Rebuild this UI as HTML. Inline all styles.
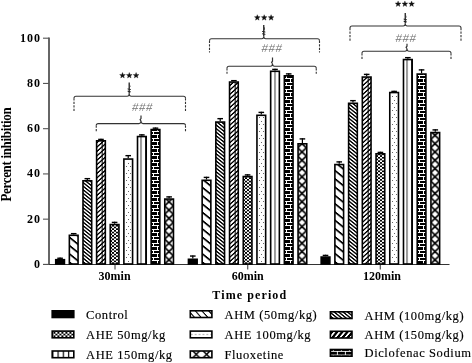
<!DOCTYPE html>
<html><head><meta charset="utf-8"><style>
html,body{margin:0;padding:0;background:#fff;}
body{width:472px;height:363px;overflow:hidden;}
svg{display:block;filter:grayscale(1);}
text{font-family:"Liberation Serif",serif;fill:#000;}
.yt{font-size:12px;font-weight:bold;text-anchor:end;letter-spacing:1.0px;}
.xt{font-size:12px;font-weight:bold;text-anchor:middle;letter-spacing:0px;}
.tt{font-size:12px;font-weight:bold;text-anchor:middle;letter-spacing:1.1px;}
.yl{font-size:13px;font-weight:bold;text-anchor:middle;letter-spacing:-0.33px;}
.lg{font-size:12.5px;letter-spacing:0.6px;stroke:#000;stroke-width:0.15px;}
.hs{font-family:"Liberation Sans",sans-serif;font-size:11.5px;font-style:italic;fill:#777;text-anchor:middle;letter-spacing:0.6px;}
</style></head><body>
<svg width="472" height="363" viewBox="0 0 472 363">
<defs>
<pattern id="p1" patternUnits="userSpaceOnUse" width="20" height="8.3" patternTransform="skewY(39)">
<rect width="20" height="8.3" fill="#fff"/>
<rect y="0" width="20" height="2.2" fill="#000"/>
</pattern>
<pattern id="p2" patternUnits="userSpaceOnUse" width="20" height="3.6" patternTransform="skewY(39)">
<rect width="20" height="3.6" fill="#fff"/>
<rect y="0" width="20" height="1.75" fill="#000"/>
</pattern>
<pattern id="p3" patternUnits="userSpaceOnUse" width="6" height="4.4" patternTransform="skewY(-42)">
<rect width="6" height="4.4" fill="#000"/>
<rect y="0" width="6" height="2.6" fill="#fff"/>
<rect x="1.7" y="0" width="0.9" height="4.4" fill="#000"/>
</pattern>
<pattern id="p4" patternUnits="userSpaceOnUse" width="4" height="3.4" x="0" y="0">
<rect width="4" height="3.4" fill="#fff"/>
<rect width="2" height="1.7" fill="#000"/>
<rect x="2" y="1.7" width="2" height="1.7" fill="#000"/>
</pattern>
<pattern id="p5" patternUnits="userSpaceOnUse" width="4.2" height="7" x="-2.1">
<rect width="4.2" height="7" fill="#fff"/>
<rect x="1.6" y="0" width="1.1" height="1.1" fill="#777"/>
<rect x="-0.55" y="3.5" width="1.1" height="1.1" fill="#777"/>
<rect x="3.65" y="3.5" width="1.1" height="1.1" fill="#777"/>
</pattern>
<pattern id="p6" patternUnits="userSpaceOnUse" width="4.573" height="4" x="-0.5">
<rect width="4.573" height="4" fill="#fff"/>
<rect x="0" width="1" height="4" fill="#333"/>
</pattern>
<pattern id="p7" patternUnits="userSpaceOnUse" width="8" height="7" x="-4" y="0">
<rect width="8" height="7" fill="#000"/>
<rect x="0" y="0" width="8" height="1" fill="#fff"/>
<rect x="0" y="3" width="8" height="1" fill="#fff"/>
<rect x="2" y="0" width="1" height="4" fill="#fff"/>
<rect x="6" y="3" width="1" height="4" fill="#fff"/>
</pattern>
<pattern id="p8" patternUnits="userSpaceOnUse" width="8.8" height="8.3" x="-4.4">
<rect width="8.8" height="8.3" fill="#fff"/>
<path d="M-0.5,-0.5 L9.3,8.8 M9.3,-0.5 L-0.5,8.8" stroke="#000" stroke-width="1.7"/>
</pattern>
<pattern id="p1L" patternUnits="userSpaceOnUse" width="30" height="7.4" patternTransform="skewY(48)" y="1">
<rect width="30" height="7.4" fill="#fff"/>
<rect y="0" width="30" height="1.6" fill="#000"/>
</pattern>
<pattern id="p3L" patternUnits="userSpaceOnUse" width="30" height="6.1" patternTransform="skewY(-50)">
<rect width="30" height="6.1" fill="#000"/>
<rect y="0" width="30" height="2.6" fill="#fff"/>
</pattern>
<pattern id="p5L" patternUnits="userSpaceOnUse" width="3.9" height="8" x="0.3" y="3.6">
<rect width="3.9" height="8" fill="#fff"/>
<rect x="1.4" y="0" width="1.1" height="1.1" fill="#777"/>
</pattern>
<pattern id="p6L" patternUnits="userSpaceOnUse" width="5.2" height="4" x="6.1">
<rect width="5.2" height="4" fill="#fff"/>
<rect x="0" width="1.2" height="4" fill="#000"/>
</pattern>
<pattern id="p7L" patternUnits="userSpaceOnUse" width="8" height="7.4" x="1.3" y="2.2">
<rect width="8" height="7.4" fill="#000"/>
<rect x="0" y="0" width="8" height="0.9" fill="#fff"/>
<rect x="0" y="3.7" width="8" height="0.9" fill="#fff"/>
<rect x="6" y="0" width="0.9" height="4" fill="#fff"/>
<rect x="2" y="3.7" width="0.9" height="4" fill="#fff"/>
</pattern>
<pattern id="p8L" patternUnits="userSpaceOnUse" width="10.4" height="10.4" x="1.5" y="-1.05">
<rect width="10.4" height="10.4" fill="#fff"/>
<path d="M-0.5,-0.5 L10.9,10.9 M10.9,-0.5 L-0.5,10.9" stroke="#000" stroke-width="1.5"/>
</pattern>
</defs>
<!-- axes -->
<line x1="49" y1="37.5" x2="49" y2="264" stroke="#666" stroke-width="2"/>
<line x1="43" y1="264.5" x2="449.5" y2="264.5" stroke="#333" stroke-width="1.1"/>
<line x1="43" y1="264.40" x2="49" y2="264.40" stroke="#555" stroke-width="1.1"/>
<text x="41.0" y="267.90" class="yt">0</text>
<line x1="43" y1="219.16" x2="49" y2="219.16" stroke="#555" stroke-width="1.1"/>
<text x="41.0" y="222.66" class="yt">20</text>
<line x1="43" y1="173.92" x2="49" y2="173.92" stroke="#555" stroke-width="1.1"/>
<text x="41.0" y="177.42" class="yt">40</text>
<line x1="43" y1="128.68" x2="49" y2="128.68" stroke="#555" stroke-width="1.1"/>
<text x="41.0" y="132.18" class="yt">60</text>
<line x1="43" y1="83.44" x2="49" y2="83.44" stroke="#555" stroke-width="1.1"/>
<text x="41.0" y="86.94" class="yt">80</text>
<line x1="43" y1="38.20" x2="49" y2="38.20" stroke="#555" stroke-width="1.1"/>
<text x="41.0" y="41.70" class="yt">100</text>
<line x1="115" y1="264" x2="115" y2="269.5" stroke="#333" stroke-width="1"/>
<line x1="247.75" y1="264" x2="247.75" y2="269.5" stroke="#333" stroke-width="1"/>
<line x1="380.25" y1="264" x2="380.25" y2="269.5" stroke="#333" stroke-width="1"/>
<g transform="translate(60,264)"><rect x="-4.27" y="-4.30" width="8.70" height="4.30" fill="#000" stroke="#000" stroke-width="1.6"/><line x1="0.08" y1="-5.10" x2="0.08" y2="-6.40" stroke="#000" stroke-width="1.2"/><line x1="-2.72" y1="-5.75" x2="2.88" y2="-5.75" stroke="#000" stroke-width="1.4"/></g>
<g transform="translate(73,264)"><rect x="-3.64" y="-28.70" width="8.70" height="28.70" fill="url(#p1)" stroke="#000" stroke-width="1.6"/><line x1="0.71" y1="-29.50" x2="0.71" y2="-31.00" stroke="#000" stroke-width="1.2"/><line x1="-2.09" y1="-30.35" x2="3.51" y2="-30.35" stroke="#000" stroke-width="1.4"/></g>
<g transform="translate(87,264)"><rect x="-4.01" y="-83.20" width="8.70" height="83.20" fill="url(#p2)" stroke="#000" stroke-width="1.6"/><line x1="0.34" y1="-84.00" x2="0.34" y2="-86.00" stroke="#000" stroke-width="1.2"/><line x1="-2.46" y1="-85.35" x2="3.14" y2="-85.35" stroke="#000" stroke-width="1.4"/></g>
<g transform="translate(100,264)"><rect x="-3.38" y="-123.20" width="8.70" height="123.20" fill="url(#p3)" stroke="#000" stroke-width="1.6"/><line x1="0.97" y1="-124.00" x2="0.97" y2="-125.25" stroke="#000" stroke-width="1.2"/><line x1="-1.83" y1="-124.60" x2="3.77" y2="-124.60" stroke="#000" stroke-width="1.4"/></g>
<g transform="translate(114,264)"><rect x="-3.75" y="-39.45" width="8.70" height="39.45" fill="url(#p4)" stroke="#000" stroke-width="1.6"/><line x1="0.60" y1="-40.25" x2="0.60" y2="-42.25" stroke="#000" stroke-width="1.2"/><line x1="-2.20" y1="-41.60" x2="3.40" y2="-41.60" stroke="#000" stroke-width="1.4"/></g>
<g transform="translate(128,264)"><rect x="-4.12" y="-104.95" width="8.70" height="104.95" fill="#fff" stroke="#000" stroke-width="1.6"/><line x1="0.23" y1="-105.75" x2="0.23" y2="-109.00" stroke="#000" stroke-width="1.2"/><line x1="-2.57" y1="-108.35" x2="3.03" y2="-108.35" stroke="#000" stroke-width="1.4"/></g><rect x="128" y="261" width="1" height="1" fill="#666"/><rect x="126" y="257" width="1" height="1" fill="#666"/><rect x="130" y="257" width="1" height="1" fill="#666"/><rect x="128" y="254" width="1" height="1" fill="#666"/><rect x="126" y="250" width="1" height="1" fill="#666"/><rect x="130" y="250" width="1" height="1" fill="#666"/><rect x="128" y="247" width="1" height="1" fill="#666"/><rect x="126" y="243" width="1" height="1" fill="#666"/><rect x="130" y="243" width="1" height="1" fill="#666"/><rect x="128" y="240" width="1" height="1" fill="#666"/><rect x="126" y="236" width="1" height="1" fill="#666"/><rect x="130" y="236" width="1" height="1" fill="#666"/><rect x="128" y="233" width="1" height="1" fill="#666"/><rect x="126" y="229" width="1" height="1" fill="#666"/><rect x="130" y="229" width="1" height="1" fill="#666"/><rect x="128" y="226" width="1" height="1" fill="#666"/><rect x="126" y="222" width="1" height="1" fill="#666"/><rect x="130" y="222" width="1" height="1" fill="#666"/><rect x="128" y="219" width="1" height="1" fill="#666"/><rect x="126" y="215" width="1" height="1" fill="#666"/><rect x="130" y="215" width="1" height="1" fill="#666"/><rect x="128" y="212" width="1" height="1" fill="#666"/><rect x="126" y="208" width="1" height="1" fill="#666"/><rect x="130" y="208" width="1" height="1" fill="#666"/><rect x="128" y="205" width="1" height="1" fill="#666"/><rect x="126" y="201" width="1" height="1" fill="#666"/><rect x="130" y="201" width="1" height="1" fill="#666"/><rect x="128" y="198" width="1" height="1" fill="#666"/><rect x="126" y="194" width="1" height="1" fill="#666"/><rect x="130" y="194" width="1" height="1" fill="#666"/><rect x="128" y="191" width="1" height="1" fill="#666"/><rect x="126" y="187" width="1" height="1" fill="#666"/><rect x="130" y="187" width="1" height="1" fill="#666"/><rect x="128" y="184" width="1" height="1" fill="#666"/><rect x="126" y="180" width="1" height="1" fill="#666"/><rect x="130" y="180" width="1" height="1" fill="#666"/><rect x="128" y="177" width="1" height="1" fill="#666"/><rect x="126" y="173" width="1" height="1" fill="#666"/><rect x="130" y="173" width="1" height="1" fill="#666"/><rect x="128" y="170" width="1" height="1" fill="#666"/><rect x="126" y="166" width="1" height="1" fill="#666"/><rect x="130" y="166" width="1" height="1" fill="#666"/><rect x="128" y="163" width="1" height="1" fill="#666"/>
<g transform="translate(141,264)"><rect x="-3.49" y="-127.45" width="8.70" height="127.45" fill="url(#p6)" stroke="#000" stroke-width="1.6"/><line x1="0.86" y1="-128.25" x2="0.86" y2="-129.75" stroke="#000" stroke-width="1.2"/><line x1="-1.94" y1="-129.10" x2="3.66" y2="-129.10" stroke="#000" stroke-width="1.4"/></g>
<g transform="translate(155,264)"><rect x="-3.86" y="-134.45" width="8.70" height="134.45" fill="url(#p7)" stroke="#000" stroke-width="1.6"/><line x1="0.49" y1="-135.25" x2="0.49" y2="-136.50" stroke="#000" stroke-width="1.2"/><line x1="-2.31" y1="-135.85" x2="3.29" y2="-135.85" stroke="#000" stroke-width="1.4"/></g>
<g transform="translate(169,264)"><rect x="-4.23" y="-64.95" width="8.70" height="64.95" fill="url(#p8)" stroke="#000" stroke-width="1.6"/><line x1="0.12" y1="-65.75" x2="0.12" y2="-67.75" stroke="#000" stroke-width="1.2"/><line x1="-2.68" y1="-67.10" x2="2.92" y2="-67.10" stroke="#000" stroke-width="1.4"/></g>
<g transform="translate(192,264)"><rect x="-3.55" y="-4.70" width="8.70" height="4.70" fill="#000" stroke="#000" stroke-width="1.6"/><line x1="0.80" y1="-5.50" x2="0.80" y2="-8.60" stroke="#000" stroke-width="1.2"/><line x1="-2.00" y1="-7.95" x2="3.60" y2="-7.95" stroke="#000" stroke-width="1.4"/></g>
<g transform="translate(206,264)"><rect x="-3.85" y="-83.70" width="8.70" height="83.70" fill="url(#p1)" stroke="#000" stroke-width="1.6"/><line x1="0.50" y1="-84.50" x2="0.50" y2="-87.25" stroke="#000" stroke-width="1.2"/><line x1="-2.30" y1="-86.60" x2="3.30" y2="-86.60" stroke="#000" stroke-width="1.4"/></g>
<g transform="translate(220,264)"><rect x="-4.15" y="-141.95" width="8.70" height="141.95" fill="url(#p2)" stroke="#000" stroke-width="1.6"/><line x1="0.20" y1="-142.75" x2="0.20" y2="-146.00" stroke="#000" stroke-width="1.2"/><line x1="-2.60" y1="-145.35" x2="3.00" y2="-145.35" stroke="#000" stroke-width="1.4"/></g>
<g transform="translate(233,264)"><rect x="-3.45" y="-181.95" width="8.70" height="181.95" fill="url(#p3)" stroke="#000" stroke-width="1.6"/><line x1="0.90" y1="-182.75" x2="0.90" y2="-184.00" stroke="#000" stroke-width="1.2"/><line x1="-1.90" y1="-183.35" x2="3.70" y2="-183.35" stroke="#000" stroke-width="1.4"/></g>
<g transform="translate(247,264)"><rect x="-3.75" y="-87.45" width="8.70" height="87.45" fill="url(#p4)" stroke="#000" stroke-width="1.6"/><line x1="0.60" y1="-88.25" x2="0.60" y2="-89.75" stroke="#000" stroke-width="1.2"/><line x1="-2.20" y1="-89.10" x2="3.40" y2="-89.10" stroke="#000" stroke-width="1.4"/></g>
<g transform="translate(261,264)"><rect x="-4.05" y="-148.70" width="8.70" height="148.70" fill="#fff" stroke="#000" stroke-width="1.6"/><line x1="0.30" y1="-149.50" x2="0.30" y2="-152.25" stroke="#000" stroke-width="1.2"/><line x1="-2.50" y1="-151.60" x2="3.10" y2="-151.60" stroke="#000" stroke-width="1.4"/></g><rect x="261" y="261" width="1" height="1" fill="#666"/><rect x="259" y="257" width="1" height="1" fill="#666"/><rect x="263" y="257" width="1" height="1" fill="#666"/><rect x="261" y="254" width="1" height="1" fill="#666"/><rect x="259" y="250" width="1" height="1" fill="#666"/><rect x="263" y="250" width="1" height="1" fill="#666"/><rect x="261" y="247" width="1" height="1" fill="#666"/><rect x="259" y="243" width="1" height="1" fill="#666"/><rect x="263" y="243" width="1" height="1" fill="#666"/><rect x="261" y="240" width="1" height="1" fill="#666"/><rect x="259" y="236" width="1" height="1" fill="#666"/><rect x="263" y="236" width="1" height="1" fill="#666"/><rect x="261" y="233" width="1" height="1" fill="#666"/><rect x="259" y="229" width="1" height="1" fill="#666"/><rect x="263" y="229" width="1" height="1" fill="#666"/><rect x="261" y="226" width="1" height="1" fill="#666"/><rect x="259" y="222" width="1" height="1" fill="#666"/><rect x="263" y="222" width="1" height="1" fill="#666"/><rect x="261" y="219" width="1" height="1" fill="#666"/><rect x="259" y="215" width="1" height="1" fill="#666"/><rect x="263" y="215" width="1" height="1" fill="#666"/><rect x="261" y="212" width="1" height="1" fill="#666"/><rect x="259" y="208" width="1" height="1" fill="#666"/><rect x="263" y="208" width="1" height="1" fill="#666"/><rect x="261" y="205" width="1" height="1" fill="#666"/><rect x="259" y="201" width="1" height="1" fill="#666"/><rect x="263" y="201" width="1" height="1" fill="#666"/><rect x="261" y="198" width="1" height="1" fill="#666"/><rect x="259" y="194" width="1" height="1" fill="#666"/><rect x="263" y="194" width="1" height="1" fill="#666"/><rect x="261" y="191" width="1" height="1" fill="#666"/><rect x="259" y="187" width="1" height="1" fill="#666"/><rect x="263" y="187" width="1" height="1" fill="#666"/><rect x="261" y="184" width="1" height="1" fill="#666"/><rect x="259" y="180" width="1" height="1" fill="#666"/><rect x="263" y="180" width="1" height="1" fill="#666"/><rect x="261" y="177" width="1" height="1" fill="#666"/><rect x="259" y="173" width="1" height="1" fill="#666"/><rect x="263" y="173" width="1" height="1" fill="#666"/><rect x="261" y="170" width="1" height="1" fill="#666"/><rect x="259" y="166" width="1" height="1" fill="#666"/><rect x="263" y="166" width="1" height="1" fill="#666"/><rect x="261" y="163" width="1" height="1" fill="#666"/><rect x="259" y="159" width="1" height="1" fill="#666"/><rect x="263" y="159" width="1" height="1" fill="#666"/><rect x="261" y="156" width="1" height="1" fill="#666"/><rect x="259" y="152" width="1" height="1" fill="#666"/><rect x="263" y="152" width="1" height="1" fill="#666"/><rect x="261" y="149" width="1" height="1" fill="#666"/><rect x="259" y="145" width="1" height="1" fill="#666"/><rect x="263" y="145" width="1" height="1" fill="#666"/><rect x="261" y="142" width="1" height="1" fill="#666"/><rect x="259" y="138" width="1" height="1" fill="#666"/><rect x="263" y="138" width="1" height="1" fill="#666"/><rect x="261" y="135" width="1" height="1" fill="#666"/><rect x="259" y="131" width="1" height="1" fill="#666"/><rect x="263" y="131" width="1" height="1" fill="#666"/><rect x="261" y="128" width="1" height="1" fill="#666"/><rect x="259" y="124" width="1" height="1" fill="#666"/><rect x="263" y="124" width="1" height="1" fill="#666"/><rect x="261" y="121" width="1" height="1" fill="#666"/><rect x="259" y="117" width="1" height="1" fill="#666"/><rect x="263" y="117" width="1" height="1" fill="#666"/>
<g transform="translate(275,264)"><rect x="-4.35" y="-192.70" width="8.70" height="192.70" fill="url(#p6)" stroke="#000" stroke-width="1.6"/><line x1="0.00" y1="-193.50" x2="0.00" y2="-195.25" stroke="#000" stroke-width="1.2"/><line x1="-2.80" y1="-194.60" x2="2.80" y2="-194.60" stroke="#000" stroke-width="1.4"/></g>
<g transform="translate(288,264)"><rect x="-3.65" y="-188.20" width="8.70" height="188.20" fill="url(#p7)" stroke="#000" stroke-width="1.6"/><line x1="0.70" y1="-189.00" x2="0.70" y2="-190.75" stroke="#000" stroke-width="1.2"/><line x1="-2.10" y1="-190.10" x2="3.50" y2="-190.10" stroke="#000" stroke-width="1.4"/></g>
<g transform="translate(302,264)"><rect x="-3.95" y="-120.20" width="8.70" height="120.20" fill="url(#p8)" stroke="#000" stroke-width="1.6"/><line x1="0.40" y1="-121.00" x2="0.40" y2="-125.75" stroke="#000" stroke-width="1.2"/><line x1="-2.40" y1="-125.10" x2="3.20" y2="-125.10" stroke="#000" stroke-width="1.4"/></g>
<g transform="translate(325,264)"><rect x="-3.83" y="-6.95" width="8.70" height="6.95" fill="#000" stroke="#000" stroke-width="1.6"/><line x1="0.52" y1="-7.75" x2="0.52" y2="-9.25" stroke="#000" stroke-width="1.2"/><line x1="-2.28" y1="-8.60" x2="3.32" y2="-8.60" stroke="#000" stroke-width="1.4"/></g>
<g transform="translate(339,264)"><rect x="-4.11" y="-99.45" width="8.70" height="99.45" fill="url(#p1)" stroke="#000" stroke-width="1.6"/><line x1="0.24" y1="-100.25" x2="0.24" y2="-102.75" stroke="#000" stroke-width="1.2"/><line x1="-2.56" y1="-102.10" x2="3.04" y2="-102.10" stroke="#000" stroke-width="1.4"/></g>
<g transform="translate(352,264)"><rect x="-3.39" y="-160.70" width="8.70" height="160.70" fill="url(#p2)" stroke="#000" stroke-width="1.6"/><line x1="0.96" y1="-161.50" x2="0.96" y2="-164.00" stroke="#000" stroke-width="1.2"/><line x1="-1.84" y1="-163.35" x2="3.76" y2="-163.35" stroke="#000" stroke-width="1.4"/></g>
<g transform="translate(366,264)"><rect x="-3.67" y="-186.95" width="8.70" height="186.95" fill="url(#p3)" stroke="#000" stroke-width="1.6"/><line x1="0.68" y1="-187.75" x2="0.68" y2="-190.25" stroke="#000" stroke-width="1.2"/><line x1="-2.12" y1="-189.60" x2="3.48" y2="-189.60" stroke="#000" stroke-width="1.4"/></g>
<g transform="translate(380,264)"><rect x="-3.95" y="-110.20" width="8.70" height="110.20" fill="url(#p4)" stroke="#000" stroke-width="1.6"/><line x1="0.40" y1="-111.00" x2="0.40" y2="-112.25" stroke="#000" stroke-width="1.2"/><line x1="-2.40" y1="-111.60" x2="3.20" y2="-111.60" stroke="#000" stroke-width="1.4"/></g>
<g transform="translate(394,264)"><rect x="-4.23" y="-171.45" width="8.70" height="171.45" fill="#fff" stroke="#000" stroke-width="1.6"/><line x1="0.12" y1="-172.25" x2="0.12" y2="-173.25" stroke="#000" stroke-width="1.2"/><line x1="-2.68" y1="-172.60" x2="2.92" y2="-172.60" stroke="#000" stroke-width="1.4"/></g><rect x="394" y="261" width="1" height="1" fill="#666"/><rect x="392" y="257" width="1" height="1" fill="#666"/><rect x="396" y="257" width="1" height="1" fill="#666"/><rect x="394" y="254" width="1" height="1" fill="#666"/><rect x="392" y="250" width="1" height="1" fill="#666"/><rect x="396" y="250" width="1" height="1" fill="#666"/><rect x="394" y="247" width="1" height="1" fill="#666"/><rect x="392" y="243" width="1" height="1" fill="#666"/><rect x="396" y="243" width="1" height="1" fill="#666"/><rect x="394" y="240" width="1" height="1" fill="#666"/><rect x="392" y="236" width="1" height="1" fill="#666"/><rect x="396" y="236" width="1" height="1" fill="#666"/><rect x="394" y="233" width="1" height="1" fill="#666"/><rect x="392" y="229" width="1" height="1" fill="#666"/><rect x="396" y="229" width="1" height="1" fill="#666"/><rect x="394" y="226" width="1" height="1" fill="#666"/><rect x="392" y="222" width="1" height="1" fill="#666"/><rect x="396" y="222" width="1" height="1" fill="#666"/><rect x="394" y="219" width="1" height="1" fill="#666"/><rect x="392" y="215" width="1" height="1" fill="#666"/><rect x="396" y="215" width="1" height="1" fill="#666"/><rect x="394" y="212" width="1" height="1" fill="#666"/><rect x="392" y="208" width="1" height="1" fill="#666"/><rect x="396" y="208" width="1" height="1" fill="#666"/><rect x="394" y="205" width="1" height="1" fill="#666"/><rect x="392" y="201" width="1" height="1" fill="#666"/><rect x="396" y="201" width="1" height="1" fill="#666"/><rect x="394" y="198" width="1" height="1" fill="#666"/><rect x="392" y="194" width="1" height="1" fill="#666"/><rect x="396" y="194" width="1" height="1" fill="#666"/><rect x="394" y="191" width="1" height="1" fill="#666"/><rect x="392" y="187" width="1" height="1" fill="#666"/><rect x="396" y="187" width="1" height="1" fill="#666"/><rect x="394" y="184" width="1" height="1" fill="#666"/><rect x="392" y="180" width="1" height="1" fill="#666"/><rect x="396" y="180" width="1" height="1" fill="#666"/><rect x="394" y="177" width="1" height="1" fill="#666"/><rect x="392" y="173" width="1" height="1" fill="#666"/><rect x="396" y="173" width="1" height="1" fill="#666"/><rect x="394" y="170" width="1" height="1" fill="#666"/><rect x="392" y="166" width="1" height="1" fill="#666"/><rect x="396" y="166" width="1" height="1" fill="#666"/><rect x="394" y="163" width="1" height="1" fill="#666"/><rect x="392" y="159" width="1" height="1" fill="#666"/><rect x="396" y="159" width="1" height="1" fill="#666"/><rect x="394" y="156" width="1" height="1" fill="#666"/><rect x="392" y="152" width="1" height="1" fill="#666"/><rect x="396" y="152" width="1" height="1" fill="#666"/><rect x="394" y="149" width="1" height="1" fill="#666"/><rect x="392" y="145" width="1" height="1" fill="#666"/><rect x="396" y="145" width="1" height="1" fill="#666"/><rect x="394" y="142" width="1" height="1" fill="#666"/><rect x="392" y="138" width="1" height="1" fill="#666"/><rect x="396" y="138" width="1" height="1" fill="#666"/><rect x="394" y="135" width="1" height="1" fill="#666"/><rect x="392" y="131" width="1" height="1" fill="#666"/><rect x="396" y="131" width="1" height="1" fill="#666"/><rect x="394" y="128" width="1" height="1" fill="#666"/><rect x="392" y="124" width="1" height="1" fill="#666"/><rect x="396" y="124" width="1" height="1" fill="#666"/><rect x="394" y="121" width="1" height="1" fill="#666"/><rect x="392" y="117" width="1" height="1" fill="#666"/><rect x="396" y="117" width="1" height="1" fill="#666"/><rect x="394" y="114" width="1" height="1" fill="#666"/><rect x="392" y="110" width="1" height="1" fill="#666"/><rect x="396" y="110" width="1" height="1" fill="#666"/><rect x="394" y="107" width="1" height="1" fill="#666"/><rect x="392" y="103" width="1" height="1" fill="#666"/><rect x="396" y="103" width="1" height="1" fill="#666"/><rect x="394" y="100" width="1" height="1" fill="#666"/><rect x="392" y="96" width="1" height="1" fill="#666"/><rect x="396" y="96" width="1" height="1" fill="#666"/>
<g transform="translate(407,264)"><rect x="-3.51" y="-204.45" width="8.70" height="204.45" fill="url(#p6)" stroke="#000" stroke-width="1.6"/><line x1="0.84" y1="-205.25" x2="0.84" y2="-207.00" stroke="#000" stroke-width="1.2"/><line x1="-1.96" y1="-206.35" x2="3.64" y2="-206.35" stroke="#000" stroke-width="1.4"/></g>
<g transform="translate(421,264)"><rect x="-3.79" y="-189.95" width="8.70" height="189.95" fill="url(#p7)" stroke="#000" stroke-width="1.6"/><line x1="0.56" y1="-190.75" x2="0.56" y2="-194.75" stroke="#000" stroke-width="1.2"/><line x1="-2.24" y1="-194.10" x2="3.36" y2="-194.10" stroke="#000" stroke-width="1.4"/></g>
<g transform="translate(435,264)"><rect x="-4.07" y="-131.45" width="8.70" height="131.45" fill="url(#p8)" stroke="#000" stroke-width="1.6"/><line x1="0.28" y1="-132.25" x2="0.28" y2="-134.75" stroke="#000" stroke-width="1.2"/><line x1="-2.52" y1="-134.10" x2="3.08" y2="-134.10" stroke="#000" stroke-width="1.4"/></g>
<text x="114.6" y="279.8" class="xt">30min</text>
<text x="247.8" y="279.8" class="xt">60min</text>
<text x="382" y="279.8" class="xt">120min</text>
<text x="249.8" y="298.9" class="tt">Time period</text>
<text transform="translate(10.7,154.6) rotate(-90) scale(1,1.1)" class="yl">Percent inhibition</text>
<path d="M74.00,98.25 Q74.00,96.25 76.00,96.25 L127.20,96.25 Q129.20,96.25 129.20,93.75 M129.20,93.75 Q129.20,96.25 131.20,96.25 L183.50,96.25 Q185.50,96.25 185.50,98.25" fill="none" stroke="#333" stroke-width="1.1"/>
<path d="M74.00,98.25 L74.00,111.25 M185.50,98.25 L185.50,111.25" stroke="#333" stroke-width="1.1" stroke-dasharray="2.2,1.3" fill="none"/>
<path d="M129.20,93.75 L129.20,82.50" stroke="#222" stroke-width="1.3" fill="none"/>
<path d="M127.60,88.92 L130.80,89.52" stroke="#222" stroke-width="1.0" fill="none"/>
<path d="M127.60,91.26 L130.80,91.86" stroke="#222" stroke-width="1.0" fill="none"/>
<path d="M129.40,84.50 L130.10,86.50 L129.20,88.00" stroke="#333" stroke-width="0.8" fill="none"/>
<path d="M96.25,125.60 Q96.25,123.60 98.25,123.60 L139.00,123.60 Q141.00,123.60 141.00,121.10 M141.00,121.10 Q141.00,123.60 143.00,123.60 L183.50,123.60 Q185.50,123.60 185.50,125.60" fill="none" stroke="#333" stroke-width="1.1"/>
<path d="M96.25,125.60 L96.25,132.50 M185.50,125.60 L185.50,132.50" stroke="#333" stroke-width="1.1" stroke-dasharray="2.2,1.3" fill="none"/>
<path d="M141.00,121.10 L140.10,119.60 L141.00,118.60 L141.00,115.50" stroke="#333" stroke-width="1.2" fill="none"/>
<path d="M209.50,40.75 Q209.50,38.75 211.50,38.75 L261.75,38.75 Q263.75,38.75 263.75,36.25 M263.75,36.25 Q263.75,38.75 265.75,38.75 L317.50,38.75 Q319.50,38.75 319.50,40.75" fill="none" stroke="#333" stroke-width="1.1"/>
<path d="M209.50,40.75 L209.50,52.50 M319.50,40.75 L319.50,52.50" stroke="#333" stroke-width="1.1" stroke-dasharray="2.2,1.3" fill="none"/>
<path d="M263.75,36.25 L263.75,25.00" stroke="#222" stroke-width="1.3" fill="none"/>
<path d="M262.15,31.43 L265.35,32.02" stroke="#222" stroke-width="1.0" fill="none"/>
<path d="M262.15,33.76 L265.35,34.36" stroke="#222" stroke-width="1.0" fill="none"/>
<path d="M263.95,27.00 L264.65,29.00 L263.75,30.50" stroke="#333" stroke-width="0.8" fill="none"/>
<path d="M227.00,68.25 Q227.00,66.25 229.00,66.25 L270.50,66.25 Q272.50,66.25 272.50,63.75 M272.50,63.75 Q272.50,66.25 274.50,66.25 L314.25,66.25 Q316.25,66.25 316.25,68.25" fill="none" stroke="#333" stroke-width="1.1"/>
<path d="M227.00,68.25 L227.00,73.75 M316.25,68.25 L316.25,73.75" stroke="#333" stroke-width="1.1" stroke-dasharray="2.2,1.3" fill="none"/>
<path d="M272.50,63.75 L271.60,62.25 L272.50,61.25 L272.50,57.50" stroke="#333" stroke-width="1.2" fill="none"/>
<path d="M350.00,28.00 Q350.00,26.00 352.00,26.00 L403.25,26.00 Q405.25,26.00 405.25,23.50 M405.25,23.50 Q405.25,26.00 407.25,26.00 L459.00,26.00 Q461.00,26.00 461.00,28.00" fill="none" stroke="#333" stroke-width="1.1"/>
<path d="M350.00,28.00 L350.00,41.25 M461.00,28.00 L461.00,41.25" stroke="#333" stroke-width="1.1" stroke-dasharray="2.2,1.3" fill="none"/>
<path d="M405.25,23.50 L405.25,13.00" stroke="#222" stroke-width="1.3" fill="none"/>
<path d="M403.65,19.14 L406.85,19.74" stroke="#222" stroke-width="1.0" fill="none"/>
<path d="M403.65,21.35 L406.85,21.95" stroke="#222" stroke-width="1.0" fill="none"/>
<path d="M405.45,15.00 L406.15,17.00 L405.25,18.50" stroke="#333" stroke-width="0.8" fill="none"/>
<path d="M362.00,53.25 Q362.00,51.25 364.00,51.25 L405.00,51.25 Q407.00,51.25 407.00,48.75 M407.00,48.75 Q407.00,51.25 409.00,51.25 L449.00,51.25 Q451.00,51.25 451.00,53.25" fill="none" stroke="#333" stroke-width="1.1"/>
<path d="M362.00,53.25 L362.00,60.00 M451.00,53.25 L451.00,60.00" stroke="#333" stroke-width="1.1" stroke-dasharray="2.2,1.3" fill="none"/>
<path d="M407.00,48.75 L406.10,47.25 L407.00,46.25 L407.00,43.75" stroke="#333" stroke-width="1.2" fill="none"/>
<polygon points="122.50,72.45 123.29,74.41 125.40,74.56 123.78,75.92 124.29,77.97 122.50,76.85 120.71,77.97 121.22,75.92 119.60,74.56 121.71,74.41" fill="#111" stroke="#111" stroke-width="0.3"/>
<polygon points="129.30,72.45 130.09,74.41 132.20,74.56 130.58,75.92 131.09,77.97 129.30,76.85 127.51,77.97 128.02,75.92 126.40,74.56 128.51,74.41" fill="#111" stroke="#111" stroke-width="0.3"/>
<polygon points="136.10,72.45 136.89,74.41 139.00,74.56 137.38,75.92 137.89,77.97 136.10,76.85 134.31,77.97 134.82,75.92 133.20,74.56 135.31,74.41" fill="#111" stroke="#111" stroke-width="0.3"/>
<polygon points="257.30,14.65 258.09,16.61 260.20,16.76 258.58,18.12 259.09,20.17 257.30,19.05 255.51,20.17 256.02,18.12 254.40,16.76 256.51,16.61" fill="#111" stroke="#111" stroke-width="0.3"/>
<polygon points="264.20,14.65 264.99,16.61 267.10,16.76 265.48,18.12 265.99,20.17 264.20,19.05 262.41,20.17 262.92,18.12 261.30,16.76 263.41,16.61" fill="#111" stroke="#111" stroke-width="0.3"/>
<polygon points="271.10,14.65 271.89,16.61 274.00,16.76 272.38,18.12 272.89,20.17 271.10,19.05 269.31,20.17 269.82,18.12 268.20,16.76 270.31,16.61" fill="#111" stroke="#111" stroke-width="0.3"/>
<polygon points="398.10,0.95 398.89,2.91 401.00,3.06 399.38,4.42 399.89,6.47 398.10,5.35 396.31,6.47 396.82,4.42 395.20,3.06 397.31,2.91" fill="#111" stroke="#111" stroke-width="0.3"/>
<polygon points="404.90,0.95 405.69,2.91 407.80,3.06 406.18,4.42 406.69,6.47 404.90,5.35 403.11,6.47 403.62,4.42 402.00,3.06 404.11,2.91" fill="#111" stroke="#111" stroke-width="0.3"/>
<polygon points="411.60,0.95 412.39,2.91 414.50,3.06 412.88,4.42 413.39,6.47 411.60,5.35 409.81,6.47 410.32,4.42 408.70,3.06 410.81,2.91" fill="#111" stroke="#111" stroke-width="0.3"/>
<text transform="translate(142.00,110.50) skewX(-7)" class="hs">###</text>
<text transform="translate(271.60,51.50) skewX(-7)" class="hs">###</text>
<text transform="translate(405.60,42.20) skewX(-7)" class="hs">###</text>
<g transform="translate(51.40,310.00)"><rect x="0.8" y="0.8" width="21.60" height="6.70" fill="#000" stroke="#000" stroke-width="1.6"/></g>
<text x="86.0" y="318.60" class="lg">Control</text>
<g transform="translate(51.40,330.30)"><rect x="0.8" y="0.8" width="21.60" height="6.70" fill="url(#p4)" stroke="#000" stroke-width="1.6"/></g>
<text x="86.0" y="339.00" class="lg">AHE 50mg/kg</text>
<g transform="translate(51.40,350.20)"><rect x="0.8" y="0.8" width="21.60" height="6.70" fill="url(#p6L)" stroke="#000" stroke-width="1.6"/></g>
<text x="86.0" y="358.80" class="lg">AHE 150mg/kg</text>
<g transform="translate(189.50,310.00)"><rect x="0.8" y="0.8" width="21.60" height="6.70" fill="url(#p1L)" stroke="#000" stroke-width="1.6"/></g>
<text x="224.5" y="318.60" class="lg">AHM (50mg/kg)</text>
<g transform="translate(189.50,330.30)"><rect x="0.8" y="0.8" width="21.60" height="6.70" fill="url(#p5L)" stroke="#000" stroke-width="1.6"/></g>
<text x="224.5" y="339.00" class="lg">AHE 100mg/kg</text>
<g transform="translate(189.50,350.20)"><rect x="0.8" y="0.8" width="21.60" height="6.70" fill="url(#p8L)" stroke="#000" stroke-width="1.6"/></g>
<text x="224.5" y="358.80" class="lg">Fluoxetine</text>
<g transform="translate(329.60,311.00)"><rect x="0.8" y="0.8" width="21.60" height="6.70" fill="url(#p2)" stroke="#000" stroke-width="1.6"/></g>
<text x="364.5" y="319.60" class="lg">AHM (100mg/kg)</text>
<g transform="translate(329.60,330.50)"><rect x="0.8" y="0.8" width="21.60" height="6.70" fill="url(#p3L)" stroke="#000" stroke-width="1.6"/></g>
<text x="364.5" y="339.20" class="lg">AHM (150mg/kg)</text>
<g transform="translate(329.60,348.70)"><rect x="0.8" y="0.8" width="21.60" height="6.70" fill="url(#p7L)" stroke="#000" stroke-width="1.6"/></g>
<text x="364.5" y="357.30" class="lg">Diclofenac Sodium</text>
</svg>
</body></html>
